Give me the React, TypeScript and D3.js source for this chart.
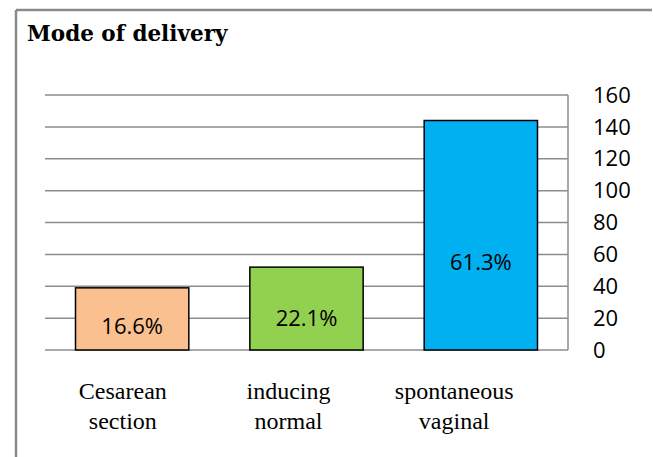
import React from "react";
import * as d3 from "d3";

const title = "Mode of delivery";
const categories = ["Cesarean section", "inducing normal", "spontaneous vaginal"];
const categoryLines = [["Cesarean", "section"], ["inducing", "normal"], ["spontaneous", "vaginal"]];
const counts = [39, 52, 144];
const percentLabels = ["16.6%", "22.1%", "61.3%"];
const yTicks = [0, 20, 40, 60, 80, 100, 120, 140, 160];
const barColors = ["#FAC090", "#92D050", "#00B0F0"];

const W = 653;
const H = 457;
const plot = { left: 45, right: 568, top: 95, bottom: 350 };

export default function App() {
  const x = d3
    .scaleBand<string>()
    .domain(categories)
    .range([plot.left, plot.right])
    .paddingInner(0.35)
    .paddingOuter(0.175);
  const xLabel = d3.scaleBand<string>().domain(categories).range([40, 537]);
  const y = d3.scaleLinear().domain([0, 160]).range([plot.bottom, plot.top]);

  return (
    <svg
      width={W}
      height={H}
      style={{ position: "absolute", left: 0, top: 0, background: "#fff" }}
    >
      <rect x={0} y={0} width={W} height={H} fill="#fff" />
      {/* outer frame */}
      <line x1={16} x2={652} y1={10} y2={10} stroke="#8a8a8a" strokeWidth={2.5} />
      <line x1={16} x2={16} y1={10} y2={457} stroke="#8a8a8a" strokeWidth={2.5} />
      <text
        x={27}
        y={41}
        fontFamily="'DejaVu Serif', 'Liberation Serif', serif"
        fontWeight="bold"
        fontSize={21.5}
        fill="#000"
      >
        {title}
      </text>
      {/* gridlines */}
      {yTicks.map((t) => (
        <line
          key={t}
          x1={plot.left}
          x2={plot.right}
          y1={y(t)}
          y2={y(t)}
          stroke="#8c8c8c"
          strokeWidth={1.5}
        />
      ))}
      <line
        x1={plot.right}
        x2={plot.right}
        y1={y(160)}
        y2={y(0)}
        stroke="#8c8c8c"
        strokeWidth={1.5}
      />
      {/* y tick labels on right */}
      {yTicks.map((t) => (
        <text
          key={t}
          x={593}
          y={y(t)}
          dy="0.35em"
          fontFamily="'Open Sans', sans-serif"
          fontSize={22}
          fill="#000"
        >
          {t}
        </text>
      ))}
      {/* bars */}
      {categories.map((c, i) => (
        <rect
          key={c}
          x={x(c)}
          y={y(counts[i])}
          width={x.bandwidth()}
          height={y(0) - y(counts[i])}
          fill={barColors[i]}
          stroke="#000"
          strokeWidth={1.5}
        />
      ))}
      {categories.map((c, i) => (
        <text
          key={c}
          x={(x(c) as number) + x.bandwidth() / 2}
          y={y(counts[i] * 0.38)}
          dy="0.35em"
          textAnchor="middle"
          fontFamily="'Open Sans', sans-serif"
          fontSize={22}
          fill="#000"
        >
          {percentLabels[i]}
        </text>
      ))}
      {/* category labels */}
      {categories.map((c, i) => (
        <text
          key={c}
          textAnchor="middle"
          fontFamily="'Liberation Serif', 'Times New Roman', serif"
          fontSize={24}
          fill="#000"
        >
          {categoryLines[i].map((ln, j) => (
            <tspan key={j} x={(xLabel(c) as number) + xLabel.bandwidth() / 2} y={399 + j * 30}>
              {ln}
            </tspan>
          ))}
        </text>
      ))}
    </svg>
  );
}
